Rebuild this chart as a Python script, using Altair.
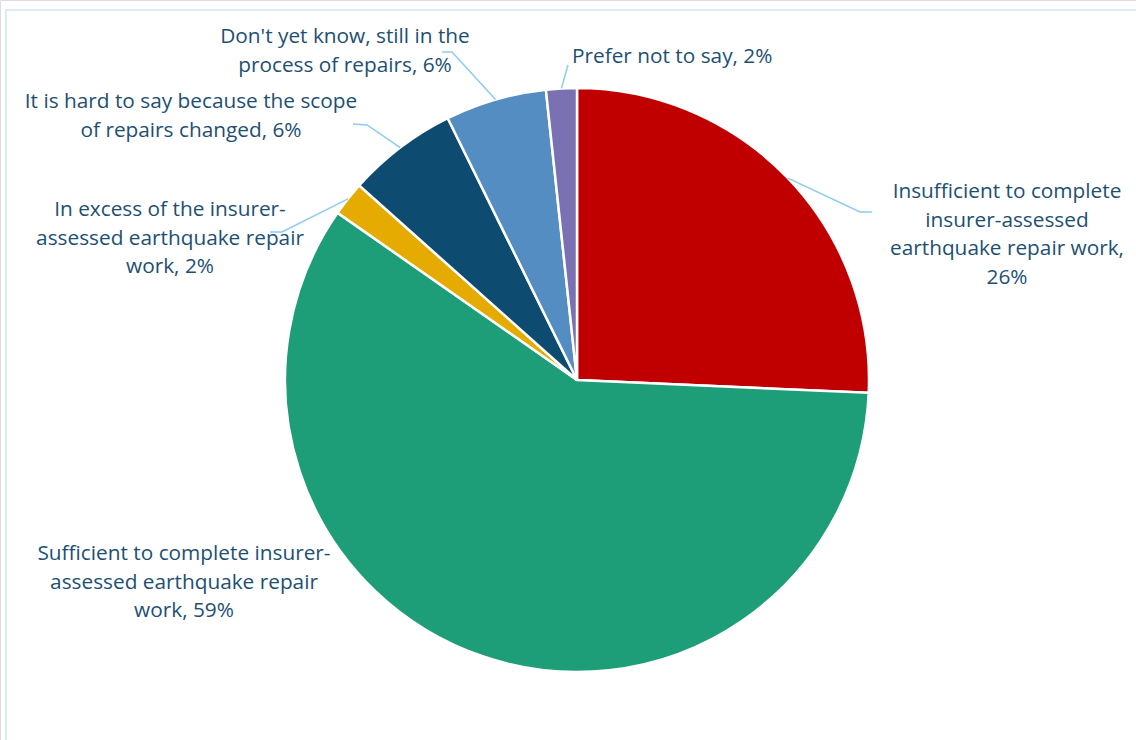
import math
import altair as alt
import pandas as pd

# ---- data ----
categories = [
    "Insufficient to complete insurer-assessed earthquake repair work",
    "Sufficient to complete insurer-assessed earthquake repair work",
    "In excess of the insurer-assessed earthquake repair work",
    "It is hard to say because the scope of repairs changed",
    "Don't yet know, still in the process of repairs",
    "Prefer not to say",
]
values = [25.7, 59.0, 1.9, 6.1, 5.6, 1.7]
pct_labels = ["26%", "59%", "2%", "6%", "6%", "2%"]
label_lines = [
    ["Insufficient to complete", "insurer-assessed", "earthquake repair work,", "26%"],
    ["Sufficient to complete insurer-", "assessed earthquake repair", "work, 59%"],
    ["In excess of the insurer-", "assessed earthquake repair", "work, 2%"],
    ["It is hard to say because the scope", "of repairs changed, 6%"],
    ["Don't yet know, still in the", "process of repairs, 6%"],
    ["Prefer not to say, 2%"],
]
colors = ["#C00000", "#1E9E78", "#E5AB00", "#0E4B70", "#548DC1", "#7A71B3"]

# ---- layout (pixels) ----
W, H = 1136, 740
CX, CY, R = 577, 380, 292
TEXT_COLOR = "#1D4F73"
LEADER_COLOR = "#8DCBF0"
FONT = "Open Sans"
FS = 20.8
LH = 28.7
# label anchor: (center x, first baseline y, align)
label_pos = [
    (1007, 198, "center"),
    (184, 560, "center"),
    (170, 216, "center"),
    (191, 108, "center"),
    (345, 43, "center"),
    (572, 63, "left"),
]
# leader elbow + end points (None = no leader)
leaders = [
    [(860, 212), (872, 212)],
    None,
    [(282, 232), (270, 232)],
    [(367, 125), (353, 124)],
    [(452, 52), (442, 52)],
    [(568, 65)],
]

# ---- build tables ----
pie_df = pd.DataFrame({"category": categories, "value": values, "idx": list(range(len(values)))})

total = sum(values)
cum = 0.0
lead_rows = []
text_rows = []
for i, v in enumerate(values):
    mid = (cum + v / 2) / total * 2 * math.pi
    cum += v
    sx = CX + R * math.sin(mid)
    sy = CY - R * math.cos(mid)
    if leaders[i] is not None:
        pts = [(sx, sy)] + leaders[i]
        for k, (px, py) in enumerate(pts):
            lead_rows.append({"id": i, "k": k, "x": px, "y": py})
    lx, ly, al = label_pos[i]
    text_rows.append({"id": i, "x": lx, "y": ly, "align": al, "text": "\n".join(label_lines[i])})

lead_df = pd.DataFrame(lead_rows)
text_df = pd.DataFrame(text_rows)

xs = alt.Scale(domain=[0, W], range=[0, W])
ys = alt.Scale(domain=[0, H], range=[0, H])

frame = alt.Chart(pd.DataFrame({"a": [0]})).mark_rect(
    fill=None, stroke="#CFE6F8", strokeWidth=1.5
).encode(x=alt.value(6), x2=alt.value(W + 10), y=alt.value(10), y2=alt.value(H + 10))

pie = alt.Chart(pie_df).mark_arc(
    outerRadius=R, stroke="white", strokeWidth=2.5
).encode(
    theta=alt.Theta("value:Q", stack=True),
    color=alt.Color("category:N", scale=alt.Scale(domain=categories, range=colors), legend=None),
    order=alt.Order("idx:Q"),
    x=alt.value(CX),
    y=alt.value(CY),
)

lines = alt.Chart(lead_df).mark_line(color=LEADER_COLOR, strokeWidth=1.5).encode(
    x=alt.X("x:Q", scale=xs, axis=None),
    y=alt.Y("y:Q", scale=ys, axis=None),
    detail="id:N",
    order="k:Q",
)

def text_layer(align):
    return alt.Chart(text_df[text_df["align"] == align]).mark_text(
        font=FONT, fontSize=FS, color=TEXT_COLOR, align=align,
        baseline="alphabetic", lineBreak="\n", lineHeight=LH,
    ).encode(
        x=alt.X("x:Q", scale=xs, axis=None),
        y=alt.Y("y:Q", scale=ys, axis=None),
        text="text:N",
    )

chart = alt.layer(frame, pie, lines, text_layer("center"), text_layer("left")).properties(
    width=W, height=H, padding=0, autosize=alt.AutoSizeParams(type="none"),
).configure_view(stroke=None).configure(background="white")

chart.save("out.html", embed_options={"renderer": "svg", "actions": False})
